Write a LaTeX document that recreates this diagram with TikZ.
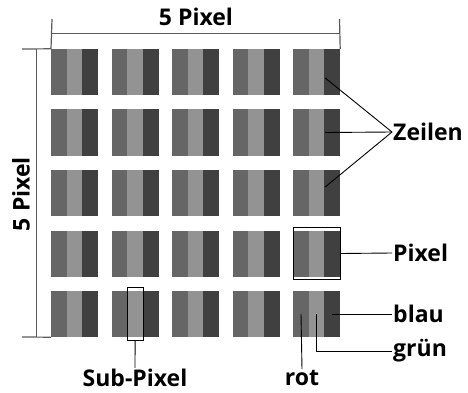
\documentclass[tikz,border=0pt]{standalone}
\usepackage{fontspec}
\setmainfont{Open Sans}
\usetikzlibrary{positioning,fit}
\definecolor{subred}{HTML}{666666}
\definecolor{subgreen}{HTML}{939393}
\definecolor{subblue}{HTML}{404040}
\definecolor{dimgray}{HTML}{5A5A5A}

\begin{document}
\begin{tikzpicture}[
    x=1pt, y=-1pt,
    sub/.style={minimum width=15.6pt, minimum height=46pt, inner sep=0pt, draw=none},
    subR/.style={sub, fill=subred},
    subG/.style={sub, fill=subgreen},
    subB/.style={sub, fill=subblue},
    lbl/.style={font=\fontsize{23}{26}\selectfont\bfseries, inner sep=1pt},
    dimline/.style={dimgray, line width=1.2pt},
    conn/.style={black, line width=0.9pt},
    markbox/.style={draw=black, line width=1pt, inner xsep=0pt, inner ysep=3pt}
]
\useasboundingbox (0,0) rectangle (468,393);

% 5 x 5 pixels, each of three sub-pixels
\foreach \r in {0,...,4} {
  \foreach \c in {0,...,4} {
    \node[subB] (b-\r-\c) at ({52+60.5*\c+38.2}, {49+60.5*\r+23}) {};
    \node[subG, left=-0.4pt of b-\r-\c] (g-\r-\c) {};
    \node[subR, left=-0.4pt of g-\r-\c] (r-\r-\c) {};
  }
}

% dimensions
\coordinate (tl) at (52,19);
\coordinate (tr) at (339.5,19);
\draw[dimline] (tl) -- (r-0-0.north west);
\draw[dimline] (tr) -- (b-0-4.north east);
\draw[dimline] (52,33.5) -- (339.5,33.5);
\node[lbl] (wlbl) at (196,17) {5 Pixel};

\coordinate (lt) at (22,49);
\coordinate (lb) at (22,337);
\draw[dimline] (lt) -- (r-0-0.north west);
\draw[dimline] (lb) -- (r-4-0.south west);
\draw[dimline] (36.5,49) -- (36.5,337);
\node[lbl, rotate=90] (hlbl) at (21,194) {5 Pixel};

% Zeilen
\node[lbl, anchor=west] (zeilen) at (392,132) {Zeilen};
\draw[conn] ([xshift=-7pt,yshift=-6pt]b-0-4.center) -- (zeilen.west);
\draw[conn] ([xshift=-7pt]b-1-4.center) -- (zeilen.west);
\draw[conn] ([xshift=-7pt,yshift=6pt]b-2-4.center) -- (zeilen.west);

% Pixel
\node[markbox, fit=(r-3-4) (b-3-4)] (pixbox) {};
\node[lbl, anchor=west] (pixel) at (392,253) {Pixel};
\draw[conn] (pixbox.east) -- (pixel.west);

% sub-pixels of the last pixel
\node[lbl, anchor=west] (blau) at (392,314) {blau};
\node[lbl, anchor=west] (gruen) at (392,351) {grün};
\node[lbl] (rot) at (302,378) {rot};
\draw[conn] (b-4-4.center) -- (blau.west);
\draw[conn] (g-4-4.center) |- (gruen.west);
\draw[conn] (r-4-4.center) -- (rot.north);

% Sub-Pixel
\node[markbox, fit=(g-4-1)] (subbox) {};
\node[lbl] (sublbl) at (135,378) {Sub-Pixel};
\draw[conn] (subbox.south) -- (sublbl.north);

\end{tikzpicture}
\end{document}
